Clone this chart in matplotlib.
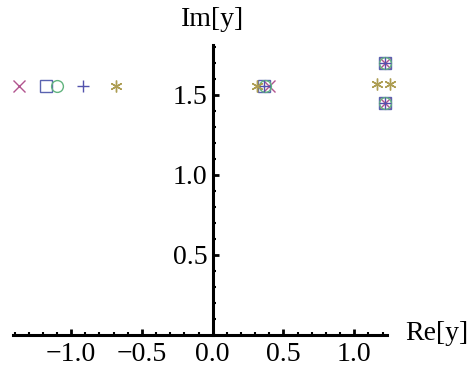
import matplotlib.pyplot as plt
from matplotlib.ticker import MultipleLocator

plt.rcParams['font.family'] = ['Liberation Serif', 'DejaVu Serif']

# root locations per series (Re, Im)
names = ["x", "square", "circle", "plus", "star"]
markers = ["x", "s", "o", "+", (6, 2, 0)]
colors = ["#b2558f", "#5a63b0", "#62b47f", "#5252ad", "#ad9d52"]
re_vals = [
    [-1.37, 0.40, 1.22, 1.22],
    [-1.18, 0.36, 1.22, 1.22],
    [-1.10, 0.37, 1.22, 1.22],
    [-0.92, 0.36, 1.22, 1.22],
    [-0.68, 0.31, 1.16, 1.25],
]
im_vals = [
    [1.556, 1.556, 1.70, 1.45],
    [1.556, 1.556, 1.70, 1.45],
    [1.556, 1.556, 1.70, 1.45],
    [1.556, 1.556, 1.70, 1.45],
    [1.556, 1.556, 1.57, 1.57],
]

fig = plt.figure(figsize=(4.7, 3.79), dpi=100)
ax = fig.add_axes([0.028, 0.116, 0.795, 0.765])

for i in range(len(names)):
    m = markers[i]
    if m in ("s", "o"):
        ax.plot(re_vals[i], im_vals[i], linestyle="none", marker=m, markersize=8.5,
                markerfacecolor="none", markeredgecolor=colors[i], markeredgewidth=1.0,
                clip_on=False)
    else:
        ax.plot(re_vals[i], im_vals[i], linestyle="none", marker=m, markersize=8.5,
                color=colors[i], markeredgewidth=1.0, clip_on=False)

ax.set_xlim(-1.41, 1.23)
ax.set_ylim(0, 1.81)

for s in ["top", "right"]:
    ax.spines[s].set_visible(False)
ax.spines["left"].set_position(("data", 0))
ax.spines["bottom"].set_position(("data", 0))
ax.spines["left"].set_linewidth(2.2)
ax.spines["bottom"].set_linewidth(2.2)

ax.xaxis.set_major_locator(MultipleLocator(0.5))
ax.xaxis.set_minor_locator(MultipleLocator(0.1))
ax.yaxis.set_major_locator(MultipleLocator(0.5))
ax.yaxis.set_minor_locator(MultipleLocator(0.1))
ax.set_xticks([-1.0, -0.5, 0.0, 0.5, 1.0])
ax.set_xticklabels(["\u22121.0", "\u22120.5", "0.0", "0.5", "1.0"])
ax.set_yticks([0.5, 1.0, 1.5])
ax.set_yticklabels(["0.5", "1.0", "1.5"])

ax.tick_params(axis="x", which="major", direction="in", length=4, width=2, labelsize=20, pad=5)
ax.tick_params(axis="x", which="minor", direction="in", length=2, width=1.5)
ax.tick_params(axis="y", which="major", direction="in", length=4, width=2, labelsize=20, pad=4)
ax.tick_params(axis="y", which="minor", direction="in", length=2, width=1.5)

ax.text(1.36, 0.01, "Re[y]", fontsize=20, ha="left", va="center", clip_on=False)
ax.text(0.0, 1.89, "Im[y]", fontsize=20, ha="center", va="bottom", clip_on=False)

fig.savefig("out.png", dpi=100)
